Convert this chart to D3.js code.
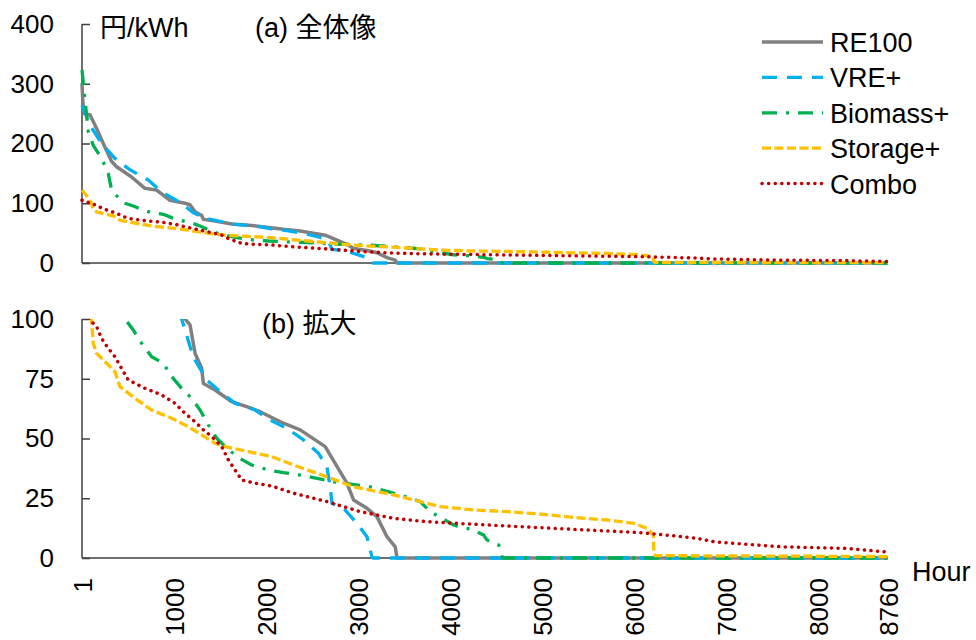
<!DOCTYPE html>
<html>
<head>
<meta charset="utf-8">
<script src="https://cdn.jsdelivr.net/npm/d3@7"></script>
<style>
  body { margin: 0; background: #fff; }
  svg text { font-family: "Liberation Sans", Arial, "Noto Sans CJK JP", sans-serif; fill: #000; }
  .axis path, .axis line { stroke: #404040; stroke-width: 1.5; }
</style>
</head>
<body>
<div id="chart"></div>
<script>
// price duration curves, [hour, 円/kWh]
const re100 = [[1,301],[10,270],[25,250],[87,248],[160,225],[232,200],[323,170],[377,161],[540,144],[685,125],[812,122],[957,105],[1121,100],[1175,97.5],[1230,85.6],[1302,79.4],[1320,73],[1447,70.3],[1629,65.4],[1846,62.6],[1937,61.2],[2190,56.4],[2372,53.6],[2644,46.6],[2752,39.6],[2880,31.3],[2952,24.3],[3098,20.8],[3206,17.3],[3315,8.9],[3405,4.7],[3424,0],[8760,0]];
const vrePlus = [[1,264],[87,231],[214,200],[359,175],[522,156],[721,139],[867,119],[1048,103],[1084,100],[1211,84],[1357,74.5],[1483,70.3],[1665,64.7],[1882,61.9],[2045,57.7],[2227,54.3],[2408,49.4],[2571,43.8],[2662,38.2],[2698,29.8],[2717,22.9],[2843,20.8],[2989,14.5],[3098,8.9],[3152,0.5],[3160,0],[8760,0]];
const biomassPlus = [[1,323],[51,248],[69,220],[123,197],[214,175],[286,150],[323,122],[432,103],[468,100],[558,95.4],[649,89.8],[758,84.2],[884,81.5],[975,75.9],[1084,71],[1193,66.8],[1284,61.9],[1375,55.6],[1465,50.1],[1520,48],[1683,42.4],[1846,38.9],[2027,36.8],[2190,35.7],[2372,34.7],[2734,31.9],[3133,29.8],[3460,26.4],[3677,23.6],[3786,19.4],[4040,13.8],[4113,12.8],[4240,12],[4366,9.6],[4403,7.5],[4530,5.4],[4566,0.5],[4580,0],[8760,0]];
const storagePlus = [[1,122],[40,115],[69,108],[105,99.6],[123,89.8],[160,85.6],[269,81.5],[359,78],[413,71.7],[577,66.8],[758,61.9],[975,58.5],[1157,54.9],[1302,51.5],[1447,48],[1556,46.6],[1809,44.5],[2064,42.4],[2299,38.9],[2662,34],[2952,29.8],[3387,26.4],[3750,22.9],[3895,21.5],[4258,20.1],[4620,19.4],[4983,18.4],[5345,17],[5708,15.9],[5998,14.5],[6143,12.4],[6209,9.6],[6216,2],[6230,1],[8760,0.6]];
const combo = [[1,105],[51,103],[87,99.6],[160,96.8],[214,91.9],[286,87.7],[359,84.2],[450,78],[504,74.5],[685,71],[867,68.2],[1012,64.7],[1121,60.5],[1230,57],[1320,53.6],[1411,50.8],[1520,46.6],[1592,41],[1665,36.8],[1738,32.6],[1882,31.3],[2064,30.1],[2299,27.1],[2662,23.6],[3024,19.4],[3387,16.6],[3750,15.2],[4077,14.5],[4620,13.4],[5345,12],[6071,10.6],[6433,9.3],[6688,8.2],[6868,6.8],[7594,4.7],[8320,4],[8718,2.6],[8760,2.3]];

const seriesNames = ["RE100", "VRE+", "Biomass+", "Storage+", "Combo"];
const seriesData = [re100, vrePlus, biomassPlus, storagePlus, combo];
const xTicks = [1, 1000, 2000, 3000, 4000, 5000, 6000, 7000, 8000, 8760];
const yTicksTop = [0, 100, 200, 300, 400];
const yTicksBottom = [0, 25, 50, 75, 100];

const styles = [
  { color: "#808080", dash: null, cap: "butt", w: 3.5 },
  { color: "#00b0f0", dash: "15,10", cap: "butt", w: 3.3 },
  { color: "#00b050", dash: "15,9,3,9", cap: "butt", w: 3.3 },
  { color: "#ffc000", dash: "9,3.5", cap: "butt", w: 3.3 },
  { color: "#c00000", dash: "0.1,6.5", cap: "round", w: 3.5 }
];

const width = 976, height = 640;
const svg = d3.select("#chart").append("svg")
  .attr("width", width)
  .attr("height", height);

const x = d3.scaleLinear().domain([1, 8760]).range([82, 888]);
const yTop = d3.scaleLinear().domain([0, 400]).range([263, 24]);
const yBot = d3.scaleLinear().domain([0, 100]).range([558, 319]);

// clip for the zoomed panel
svg.append("clipPath").attr("id", "clipBot")
  .append("rect")
  .attr("x", x(1) - 4).attr("y", yBot(100))
  .attr("width", x(8760) - x(1) + 8).attr("height", yBot(0) - yBot(100) + 4);

function drawPanel(y, ticks, clip) {
  const g = svg.append("g");

  const yAxis = g.append("g")
    .attr("class", "axis")
    .attr("transform", `translate(${x(1)},0)`)
    .call(d3.axisLeft(y).tickValues(ticks).tickSize(-8).tickPadding(28));
  yAxis.select(".domain").attr("d", `M0,${y.range()[1]}V${y.range()[0]}`);
  yAxis.selectAll("text").style("font-size", "26px");

  g.append("line")
    .attr("x1", x(1)).attr("x2", x(8760))
    .attr("y1", y(0)).attr("y2", y(0))
    .attr("stroke", "#404040").attr("stroke-width", 1.5);

  const line = d3.line().x(d => x(d[0])).y(d => y(d[1]));
  const lines = g.append("g");
  if (clip) lines.attr("clip-path", "url(#clipBot)");
  seriesData.forEach((s, i) => {
    lines.append("path")
      .datum(s)
      .attr("d", line)
      .attr("fill", "none")
      .attr("stroke", styles[i].color)
      .attr("stroke-width", styles[i].w)
      .attr("stroke-dasharray", styles[i].dash)
      .attr("stroke-linecap", styles[i].cap)
      .attr("stroke-linejoin", "round");
  });
  return g;
}

drawPanel(yTop, yTicksTop, false);
drawPanel(yBot, yTicksBottom, true);

// x axis labels, rotated
const xAxis = svg.append("g")
  .attr("class", "axis")
  .attr("transform", `translate(0,${yBot(0)})`)
  .call(d3.axisBottom(x).tickValues(xTicks).tickSize(0).tickPadding(0).tickFormat(d3.format("d")));
xAxis.select(".domain").remove();
xAxis.selectAll("text")
  .style("font-size", "26px")
  .attr("text-anchor", "end")
  .attr("dy", "0.35em")
  .attr("transform", "translate(0,20) rotate(-90)")
  .attr("x", 0).attr("y", 0);

// panel labels
svg.append("text").attr("x", 100).attr("y", 37).style("font-size", "27px").text("円/kWh");
svg.append("text").attr("x", 255).attr("y", 37).style("font-size", "27px").text("(a) 全体像");
svg.append("text").attr("x", 262).attr("y", 333).style("font-size", "27px").text("(b) 拡大");
svg.append("text").attr("x", 912).attr("y", 581).style("font-size", "27px").text("Hour");

// legend
const legend = svg.append("g").attr("transform", "translate(762,42)");
seriesNames.forEach((name, i) => {
  const row = legend.append("g").attr("transform", `translate(0,${i * 35.4})`);
  row.append("line")
    .attr("x1", 0).attr("x2", 61).attr("y1", 0).attr("y2", 0)
    .attr("stroke", styles[i].color)
    .attr("stroke-width", styles[i].w)
    .attr("stroke-dasharray", styles[i].dash)
    .attr("stroke-linecap", styles[i].cap);
  row.append("text")
    .attr("x", 68).attr("y", 10)
    .style("font-size", "27px")
    .text(name);
});
</script>
</body>
</html>
